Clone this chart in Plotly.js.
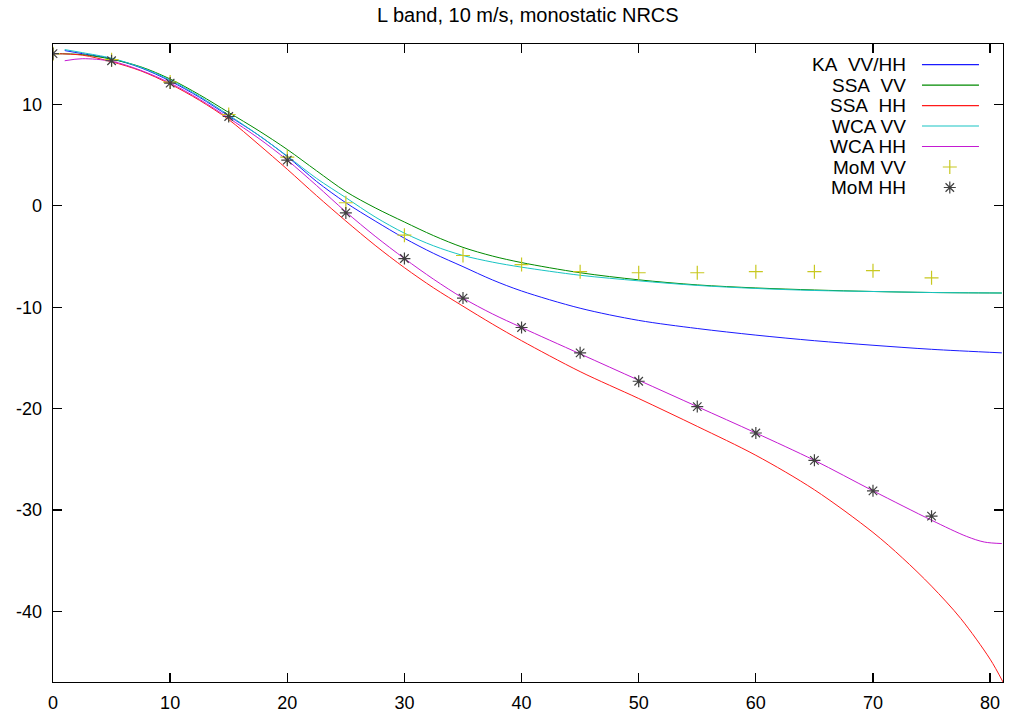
<!DOCTYPE html>
<html>
<head>
<meta charset="utf-8">
<script src="https://cdn.plot.ly/plotly-3.0.1.min.js"></script>
<style>html,body{margin:0;padding:0;background:#fff;}#chart{width:1015px;height:716px;}</style>
</head>
<body>
<div id="chart"></div>
<script>
// ---- data (incidence angle in degrees, NRCS in dB) ----
const xKA = [1, 2.5, 5, 7.5, 10, 12.5, 15, 17.5, 20, 22.5, 25, 27.5, 30, 32.5, 35, 37.5, 40, 45, 50, 55, 60, 65, 70, 75, 81];
const yKA = [15.3, 15.0, 14.5, 13.6, 12.3, 10.7, 8.85, 7.0, 4.85, 2.4, 0.3, -1.5, -3.2, -4.7, -6.0, -7.3, -8.4, -10.1, -11.3, -12.1, -12.75, -13.3, -13.75, -14.15, -14.5];

const xSSAVV = [0, 2.5, 5, 7.5, 10, 12.5, 15, 17.5, 20, 22.5, 25, 27.5, 30, 32.5, 35, 37.5, 40, 45, 50, 55, 60, 65, 70, 75, 81];
const ySSAVV = [15.0, 14.9, 14.45, 13.7, 12.5, 10.95, 9.2, 7.45, 5.55, 3.45, 1.4, -0.2, -1.6, -2.95, -4.1, -4.95, -5.6, -6.6, -7.3, -7.8, -8.1, -8.3, -8.45, -8.55, -8.6];

const xSSAHH = [0, 2.5, 5, 7.5, 10, 12.5, 15, 17.5, 20, 22.5, 25, 27.5, 30, 32.5, 35, 37.5, 40, 45, 50, 55, 60, 65, 70, 72.5, 75, 77.5, 80, 81.1];
const ySSAHH = [15.0, 14.85, 14.2, 13.3, 12.0, 10.4, 8.5, 6.1, 3.6, 1.0, -1.5, -3.9, -6.1, -8.1, -9.9, -11.65, -13.3, -16.35, -19.0, -21.75, -24.6, -28.0, -32.2, -34.7, -37.5, -40.7, -44.7, -46.95];

const xWCAVV = [1, 2.5, 5, 7.5, 10, 12.5, 15, 17.5, 20, 22.5, 25, 27.5, 30, 32.5, 35, 37.5, 40, 45, 50, 55, 60, 65, 70, 75, 81];
const yWCAVV = [15.4, 15.1, 14.55, 13.65, 12.4, 10.8, 8.95, 7.0, 4.9, 2.7, 0.8, -1.1, -2.7, -3.95, -4.9, -5.55, -6.05, -6.85, -7.4, -7.85, -8.15, -8.35, -8.45, -8.55, -8.6];

const xWCAHH = [1, 2.5, 5, 7.5, 10, 12.5, 15, 17.5, 20, 22.5, 25, 27.5, 30, 32.5, 35, 37.5, 40, 45, 50, 55, 60, 65, 70, 75, 78, 79.5, 81];
const yWCAHH = [14.3, 14.5, 14.25, 13.35, 12.1, 10.5, 8.65, 6.7, 4.5, 2.0, -0.6, -3.0, -5.2, -7.25, -9.1, -10.65, -12.0, -14.6, -17.2, -19.8, -22.4, -25.1, -28.1, -31.0, -32.6, -33.15, -33.3];

const xMoM = [0, 5, 10, 15, 20, 25, 30, 35, 40, 45, 50, 55, 60, 65, 70, 75];
const yMoMVV = [15.0, 14.4, 12.2, 9.0, 4.8, 0.3, -2.9, -4.9, -5.8, -6.5, -6.6, -6.6, -6.5, -6.5, -6.4, -7.1];
const yMoMHH = [15.0, 14.3, 12.1, 8.8, 4.5, -0.7, -5.2, -9.1, -12.0, -14.5, -17.3, -19.8, -22.4, -25.1, -28.1, -30.6];

const xTicks = [0, 10, 20, 30, 40, 50, 60, 70, 80];
const xTickText = ["0", "10", "20", "30", "40", "50", "60", "70", "80"];
const yTicks = [-40, -30, -20, -10, 0, 10];
const yTickText = ["-40", "-30", "-20", "-10", "0", "10"];

const seriesNames = ["KA\u00a0\u00a0VV/HH", "SSA\u00a0\u00a0VV", "SSA\u00a0\u00a0HH", "WCA VV", "WCA HH", "MoM VV", "MoM HH"];
const titleText = "L band, 10 m/s, monostatic NRCS";

// ---- styling ----
const colors = ["#1a1aff", "#008a00", "#ff1a1a", "#18c4c4", "#c41ad2", "#c8c820", "#404040"];
const FONT = "Liberation Sans, Arial, sans-serif";

const lineData = [[xKA, yKA], [xSSAVV, ySSAVV], [xSSAHH, ySSAHH], [xWCAVV, yWCAVV], [xWCAHH, yWCAHH]];
const traces = [];
lineData.forEach((d, i) => {
  traces.push({x: d[0], y: d[1], type: 'scatter', mode: 'lines', showlegend: false,
    line: {color: colors[i], width: 1, shape: 'spline', smoothing: 0.9}, hoverinfo: 'skip'});
});
traces.push({x: xMoM, y: yMoMVV, type: 'scatter', mode: 'markers', showlegend: false,
  marker: {symbol: 'cross-thin-open', size: 10, color: colors[5], line: {color: colors[5], width: 1.2}}});
traces.push({x: xMoM, y: yMoMHH, type: 'scatter', mode: 'markers', showlegend: false,
  marker: {symbol: 'asterisk-open', size: 10, color: colors[6], line: {color: colors[6], width: 1.2}}});

// ---- gnuplot-style key (text right-aligned, sample to the right) ----
const keyTop = 0.9678, keyStep = 0.03212;
const shapes = [];
const annotations = [{text: titleText, xref: 'paper', yref: 'paper', x: 0.5, y: 1, yshift: 29,
  xanchor: 'center', yanchor: 'middle', showarrow: false, font: {family: FONT, size: 20, color: '#000'}}];
seriesNames.forEach((name, i) => {
  const yk = keyTop - i * keyStep;
  annotations.push({text: name, xref: 'paper', yref: 'paper', x: 0.9003, y: yk, xanchor: 'right', yanchor: 'middle',
    showarrow: false, font: {family: FONT, size: 19, color: '#000'}});
  if (i < 5) {
    shapes.push({type: 'line', xref: 'paper', yref: 'paper', x0: 0.9147, x1: 0.9747, y0: yk, y1: yk,
      line: {color: colors[i], width: 1.2}});
  } else {
    traces.push({x: [0.944], y: [yk], xaxis: 'x2', yaxis: 'y2', mode: 'markers', showlegend: false,
      marker: {symbol: i === 5 ? 'cross-thin-open' : 'asterisk-open', size: 10, color: colors[i],
        line: {color: colors[i], width: 1.2}}, hoverinfo: 'skip'});
  }
});

const axisCommon = {showgrid: false, zeroline: false, showline: true, linecolor: '#000', linewidth: 1.3,
  mirror: 'ticks', ticks: 'inside', ticklen: 9, tickwidth: 1.3, tickcolor: '#000',
  tickfont: {family: FONT, size: 18, color: '#000'}, tickmode: 'array'};

const layout = {
  width: 1015, height: 716,
  margin: {l: 53, r: 12, t: 44, b: 34, pad: 0},
  paper_bgcolor: '#fff', plot_bgcolor: '#fff',
  showlegend: false,
  xaxis: Object.assign({}, axisCommon, {range: [0, 81.1], tickvals: xTicks, ticktext: xTickText, ticklabelstandoff: 4}),
  yaxis: Object.assign({}, axisCommon, {range: [-46.95, 15.95], tickvals: yTicks, ticktext: yTickText, ticklabelstandoff: 6}),
  xaxis2: {overlaying: 'x', range: [0, 1], visible: false, fixedrange: true},
  yaxis2: {overlaying: 'y', range: [0, 1], visible: false, fixedrange: true},
  shapes: shapes,
  annotations: annotations
};

Plotly.newPlot('chart', traces, layout, {staticPlot: true, displayModeBar: false});
</script>
</body>
</html>
